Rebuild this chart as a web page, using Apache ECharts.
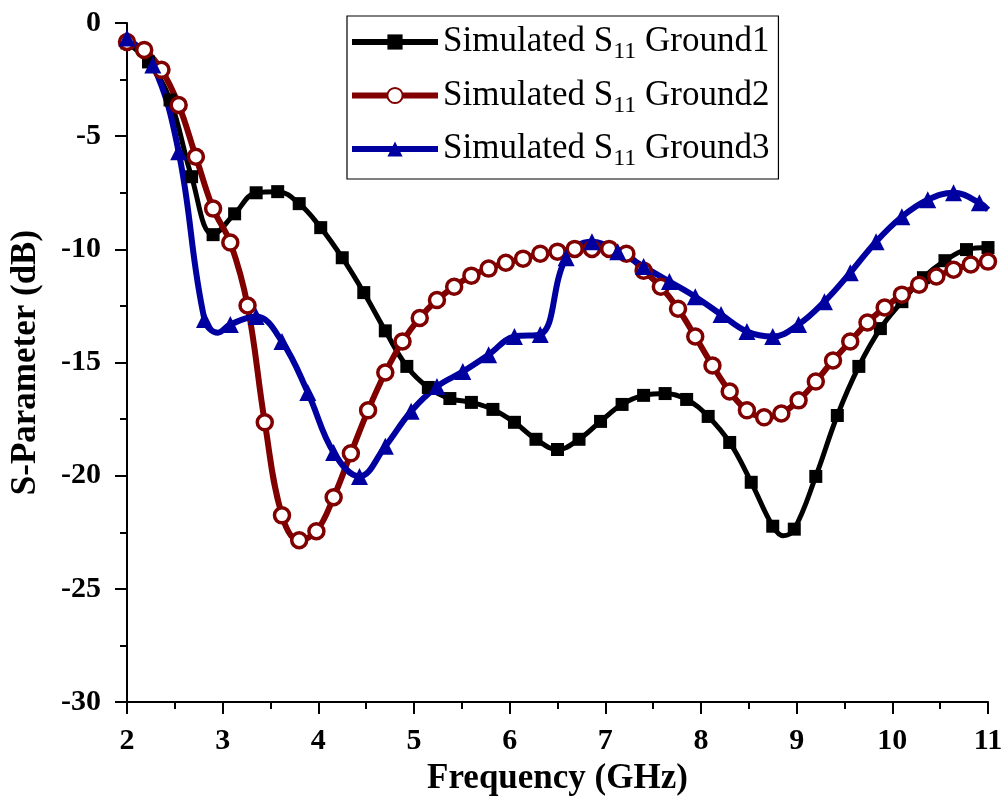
<!DOCTYPE html>
<html>
<head>
<meta charset="utf-8">
<script src="https://cdn.jsdelivr.net/npm/echarts@6/dist/echarts.min.js"></script>
<style>
html,body{margin:0;padding:0;background:#fff;}
#chart{width:1007px;height:801px;}
</style>
</head>
<body>
<div id="chart"></div>
<script>
// Frequency (GHz) and S11 (dB) values
const ground1Freq = [2,2.225,2.45,2.675,2.9,3.125,3.35,3.575,3.8,4.025,4.25,4.475,4.7,4.925,5.15,5.375,5.6,5.825,6.05,6.275,6.5,6.725,6.95,7.175,7.4,7.625,7.85,8.075,8.3,8.525,8.75,8.86,8.975,9.2,9.425,9.65,9.875,10.1,10.325,10.55,10.775,11];
const ground1S11 = [-0.88,-1.72,-3.40,-6.79,-9.35,-8.43,-7.50,-7.45,-7.98,-9.04,-10.37,-11.91,-13.6,-15.17,-16.10,-16.59,-16.76,-17.07,-17.64,-18.39,-18.84,-18.39,-17.60,-16.85,-16.45,-16.37,-16.63,-17.38,-18.53,-20.29,-22.23,-22.65,-22.36,-20.03,-17.34,-15.17,-13.50,-12.31,-11.25,-10.50,-10.01,-9.92];
const ground1Unmarked = [8.86]; // curve points without a marker

const ground2Freq = [2,2.18,2.36,2.54,2.72,2.9,3.08,3.26,3.44,3.62,3.8,3.98,4.16,4.34,4.52,4.7,4.88,5.06,5.24,5.42,5.6,5.78,5.96,6.14,6.32,6.5,6.68,6.86,7.04,7.22,7.4,7.58,7.76,7.94,8.12,8.3,8.48,8.66,8.84,9.02,9.2,9.38,9.56,9.74,9.92,10.1,10.28,10.46,10.64,10.82,11];
const ground2S11 = [-0.84,-1.19,-2.07,-3.62,-5.91,-8.20,-9.70,-12.48,-17.64,-21.75,-22.85,-22.45,-20.95,-19.01,-17.11,-15.44,-14.07,-13.03,-12.24,-11.65,-11.16,-10.85,-10.59,-10.41,-10.19,-10.10,-9.98,-9.98,-9.98,-10.19,-10.94,-11.65,-12.62,-13.85,-15.13,-16.28,-17.11,-17.42,-17.25,-16.67,-15.84,-14.91,-14.07,-13.23,-12.57,-12.00,-11.56,-11.20,-10.90,-10.67,-10.54];

const ground3Freq = [2,2.27,2.54,2.81,2.95,3.08,3.35,3.62,3.89,4.16,4.43,4.7,4.97,5.24,5.51,5.78,6.05,6.32,6.59,6.86,7.13,7.4,7.67,7.94,8.21,8.48,8.75,9.02,9.29,9.56,9.83,10.1,10.37,10.64,10.91,11];
const ground3S11 = [-0.66,-1.85,-5.69,-13.10,-13.68,-13.32,-12.97,-14.07,-16.32,-18.97,-20.03,-18.70,-17.15,-16.06,-15.40,-14.65,-13.85,-13.76,-10.37,-9.66,-10.10,-10.76,-11.42,-12.09,-12.88,-13.63,-13.85,-13.32,-12.31,-11.03,-9.66,-8.56,-7.81,-7.50,-7.94,-8.25];
const ground3Unmarked = [2.95, 11];

const seriesNames = ['Ground1','Ground2','Ground3'];
const xTicks = [2,3,4,5,6,7,8,9,10,11];
const yTicks = [0,-5,-10,-15,-20,-25,-30];

function pairs(xs, ys, unmarked) {
  return xs.map((x, i) => {
    if (unmarked && unmarked.includes(x)) return { value: [x, ys[i]], symbol: 'none' };
    return [x, ys[i]];
  });
}

const serif = 'Liberation Serif';
const chart = echarts.init(document.getElementById('chart'), null, { renderer: 'canvas' });
chart.setOption({
  backgroundColor: '#ffffff',
  animation: false,
  grid: { left: 127, right: 19, top: 23, bottom: 98, containLabel: false },
  legend: {
    orient: 'vertical',
    left: 347, top: 16,
    padding: [6, 9, 8, 2],
    itemGap: 11.5,
    itemWidth: 86, itemHeight: 19,
    backgroundColor: '#fff',
    borderColor: '#000', borderWidth: 1.2,
    lineStyle: { width: 6 },
    data: seriesNames.map(n => 'Simulated S11 ' + n),
    formatter: function (name) {
      const g = name.replace('Simulated S11 ', '');
      return '{a|Simulated S}{s|11}{a| ' + g + '}';
    },
    textStyle: {
      fontFamily: serif, color: '#000',
      rich: {
        a: { fontFamily: serif, fontSize: 35, color: '#000', lineHeight: 44, verticalAlign: 'middle' },
        s: { fontFamily: serif, fontSize: 24, color: '#000', lineHeight: 44, verticalAlign: 'bottom', padding: [18, 0, 0, 0] }
      }
    }
  },
  xAxis: {
    type: 'value', min: 2, max: 11, interval: 1,
    name: 'Frequency (GHz)', nameLocation: 'middle', nameGap: 56,
    nameTextStyle: { fontFamily: serif, fontWeight: 'bold', fontSize: 35, color: '#000' },
    axisLine: { onZero: false, lineStyle: { color: '#000', width: 2 } },
    axisTick: { inside: false, length: 12, lineStyle: { color: '#000', width: 2 } },
    minorTick: { show: true, splitNumber: 2, length: 7, lineStyle: { color: '#000', width: 2 } },
    axisLabel: { margin: 24, fontFamily: serif, fontWeight: 'bold', fontSize: 30, color: '#000',
      formatter: v => xTicks.includes(v) ? String(v) : '' },
    splitLine: { show: false }
  },
  yAxis: {
    type: 'value', min: -30, max: 0, interval: 5,
    name: 'S-Parameter (dB)', nameLocation: 'middle', nameGap: 84, nameRotate: 90,
    nameTextStyle: { fontFamily: serif, fontWeight: 'bold', fontSize: 35, color: '#000' },
    axisLine: { onZero: false, lineStyle: { color: '#000', width: 2 } },
    axisTick: { inside: false, length: 12, lineStyle: { color: '#000', width: 2 } },
    minorTick: { show: true, splitNumber: 2, length: 7, lineStyle: { color: '#000', width: 2 } },
    axisLabel: { margin: 26, fontFamily: serif, fontWeight: 'bold', fontSize: 30, color: '#000',
      formatter: v => yTicks.includes(v) ? String(v) : '' },
    splitLine: { show: false }
  },
  series: [
    {
      name: 'Simulated S11 Ground1', type: 'line', smooth: 0.4,
      data: pairs(ground1Freq, ground1S11, ground1Unmarked),
      symbol: 'rect', symbolSize: 13, showAllSymbol: true,
      lineStyle: { color: '#000', width: 5 },
      itemStyle: { color: '#000' }
    },
    {
      name: 'Simulated S11 Ground2', type: 'line', smooth: 0.4,
      data: pairs(ground2Freq, ground2S11),
      symbol: 'circle', symbolSize: 15, showAllSymbol: true,
      lineStyle: { color: '#800000', width: 6 },
      itemStyle: { color: '#ffffff', borderColor: '#800000', borderWidth: 3.5 }
    },
    {
      name: 'Simulated S11 Ground3', type: 'line', smooth: 0.4,
      data: pairs(ground3Freq, ground3S11, ground3Unmarked),
      symbol: 'triangle', symbolSize: 17, showAllSymbol: true,
      lineStyle: { color: '#0000a0', width: 6 },
      itemStyle: { color: '#0000a0' }
    }
  ]
});
</script>
</body>
</html>
